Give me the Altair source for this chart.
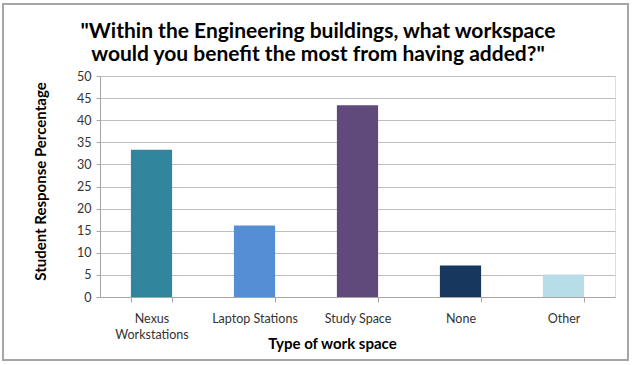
import altair as alt
import pandas as pd

categories = ["Nexus\nWorkstations", "Laptop Stations", "Study Space", "None", "Other"]
values = [33.3, 16.2, 43.4, 7.1, 5.1]
colors = ["#31859C", "#558ED5", "#604A7B", "#17375E", "#B7DEE8"]
y_ticks = [0, 5, 10, 15, 20, 25, 30, 35, 40, 45, 50]
title_lines = ['"Within the Engineering buildings, what workspace',
               'would you benefit the most from having added?"']

df = pd.DataFrame({"cat": categories, "val": values, "color": colors})
one = pd.DataFrame({"k": [0]})

FONT = "Lato"

bars = alt.Chart(df).mark_bar().encode(
    x=alt.X(
        "cat:N",
        sort=categories,
        scale=alt.Scale(paddingInner=0.6, paddingOuter=0.3),
        axis=alt.Axis(
            title="Type of work space",
            titleFont=FONT,
            titleFontSize=15,
            titleFontWeight="bold",
            titleColor="#000000",
            titleX=232,
            titleY=51,
            titleBaseline="alphabetic",
            labelAngle=0,
            labelFont=FONT,
            labelFontSize=12.5,
            labelColor="#333333",
            labelExpr="split(datum.label, '\\n')",
            labelLineHeight=16,
            labelPadding=10,
            tickBand="extent",
            tickSize=5,
            tickColor="#A6A6A6",
            domainColor="#A6A6A6",
            grid=False,
        ),
    ),
    y=alt.Y(
        "val:Q",
        scale=alt.Scale(domain=[0, 50]),
        axis=alt.Axis(
            values=y_ticks,
            title="Student Response Percentage",
            titleFont=FONT,
            titleFontSize=15,
            titleFontWeight="bold",
            titleColor="#000000",
            titleX=-60,
            titleY=105,
            titleBaseline="middle",
            labelFont=FONT,
            labelFontSize=12.5,
            labelColor="#333333",
            labelPadding=5,
            tickSize=4,
            tickColor="#A6A6A6",
            domainColor="#A6A6A6",
            gridColor="#BEBEBE",
            gridWidth=1,
        ),
    ),
    color=alt.Color("color:N", scale=None),
)

border = alt.Chart(one).mark_rect(filled=False, stroke="#A6A6A6", strokeWidth=2).encode(
    x=alt.value(-97), x2=alt.value(528), y=alt.value(-72), y2=alt.value(284)
)

title1 = alt.Chart(one).mark_text(
    text=title_lines[0], font=FONT, fontSize=21, fontWeight="bold", color="#000000",
    align="center", baseline="alphabetic"
).encode(x=alt.value(218), y=alt.value(-38))

title2 = alt.Chart(one).mark_text(
    text=title_lines[1], font=FONT, fontSize=21, fontWeight="bold", color="#000000",
    align="center", baseline="alphabetic"
).encode(x=alt.value(218), y=alt.value(-15))

chart = alt.layer(border, bars, title1, title2).properties(
    width=515,
    height=221,
    autosize=alt.AutoSizeParams(type="none"),
    padding={"left": 100, "top": 76, "right": 22, "bottom": 68},
).configure_view(stroke=None).configure(background="white")

chart.save("out.html", embed_options={"renderer": "svg", "actions": False})
